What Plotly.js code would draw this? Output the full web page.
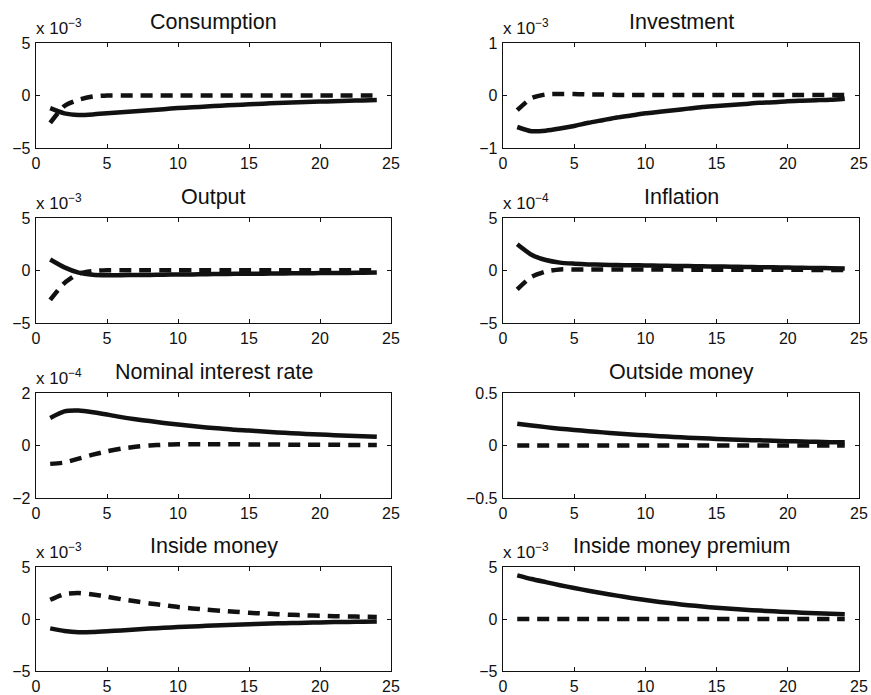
<!DOCTYPE html>
<html>
<head>
<meta charset="utf-8">
<script src="https://cdn.plot.ly/plotly-3.0.1.min.js"></script>
<style>html,body{margin:0;padding:0;background:#fff;}#chart{width:871px;height:695px;}</style>
</head>
<body>
<div id="chart"></div>
<script>
// Horizon (quarters)
const periods = [1,2,3,4,5,6,7,8,9,10,11,12,13,14,15,16,17,18,19,20,21,22,23,24];

// Panel titles, scale exponents and y-ranges
const titles = ["Consumption","Investment","Output","Inflation","Nominal interest rate","Outside money","Inside money","Inside money premium"];
const exponents = [-3,-3,-3,-4,-4,null,-3,-3];
const yLimits = [5,1,5,5,2,0.5,5,5];
const xTicks = [0,5,10,15,20,25];

// Values (in units of 10^exponent), solid = first scenario, dashed = second scenario
const consumptionSolid  = [-1.2,-1.7,-1.85,-1.8,-1.7,-1.6,-1.5,-1.4,-1.3,-1.2,-1.12,-1.05,-0.97,-0.9,-0.84,-0.78,-0.72,-0.67,-0.62,-0.58,-0.54,-0.5,-0.47,-0.44];
const consumptionDashed = [-2.6,-1.0,-0.4,-0.1,0,0,0,0,0,0,0,0,0,0,0,0,0,0,0,0,0,0,0,0];
const investmentSolid   = [-0.6,-0.68,-0.67,-0.63,-0.58,-0.52,-0.47,-0.42,-0.38,-0.34,-0.31,-0.28,-0.25,-0.22,-0.2,-0.18,-0.16,-0.14,-0.13,-0.11,-0.1,-0.09,-0.08,-0.06];
const investmentDashed  = [-0.28,-0.05,0.02,0.03,0.03,0.02,0.02,0.01,0.01,0.01,0.01,0.01,0.01,0.01,0.01,0.01,0.01,0.01,0.01,0.01,0.01,0.01,0.01,0.01];
const outputSolid       = [1.05,0.3,-0.2,-0.4,-0.45,-0.45,-0.43,-0.42,-0.4,-0.38,-0.37,-0.35,-0.34,-0.32,-0.31,-0.3,-0.28,-0.27,-0.26,-0.25,-0.24,-0.23,-0.22,-0.2];
const outputDashed      = [-2.8,-1.2,-0.3,-0.05,0.02,0.03,0.03,0.03,0.03,0.03,0.03,0.03,0.03,0.03,0.02,0.02,0.02,0.02,0.02,0.02,0.02,0.02,0.02,0.02];
const inflationSolid    = [2.5,1.5,1.0,0.75,0.65,0.58,0.55,0.52,0.5,0.48,0.46,0.44,0.42,0.4,0.38,0.36,0.34,0.32,0.3,0.28,0.26,0.24,0.22,0.2];
const inflationDashed   = [-1.8,-0.6,-0.1,0.1,0.1,0.1,0.1,0.1,0.1,0.09,0.09,0.09,0.08,0.08,0.08,0.07,0.07,0.07,0.06,0.06,0.06,0.05,0.05,0.05];
const interestSolid     = [1.05,1.3,1.33,1.27,1.18,1.08,1.0,0.93,0.86,0.8,0.74,0.69,0.65,0.6,0.57,0.53,0.5,0.47,0.44,0.42,0.39,0.37,0.35,0.33];
const interestDashed    = [-0.7,-0.65,-0.5,-0.35,-0.22,-0.12,-0.05,0,0.03,0.05,0.05,0.05,0.05,0.05,0.04,0.04,0.04,0.03,0.03,0.03,0.03,0.02,0.02,0.02];
const outsideSolid      = [0.207,0.19,0.175,0.16,0.148,0.136,0.125,0.115,0.105,0.097,0.089,0.082,0.075,0.069,0.063,0.058,0.053,0.049,0.045,0.041,0.038,0.035,0.032,0.03];
const outsideDashed     = [0,0,0,0,0,0,0,0,0,0,0,0,0,0,0,0,0,0,0,0,0,0,0,0];
const insideSolid       = [-0.9,-1.15,-1.27,-1.25,-1.18,-1.1,-1.0,-0.92,-0.85,-0.78,-0.72,-0.66,-0.6,-0.55,-0.5,-0.46,-0.42,-0.39,-0.36,-0.33,-0.3,-0.28,-0.26,-0.24];
const insideDashed      = [1.85,2.4,2.5,2.35,2.15,1.9,1.7,1.5,1.33,1.15,1.02,0.9,0.8,0.7,0.6,0.53,0.46,0.4,0.35,0.31,0.27,0.24,0.22,0.2];
const premiumSolid      = [4.2,3.85,3.55,3.25,2.98,2.72,2.48,2.25,2.02,1.82,1.64,1.48,1.33,1.2,1.08,0.98,0.89,0.81,0.74,0.67,0.61,0.56,0.5,0.45];
const premiumDashed     = [0,0,0,0,0,0,0,0,0,0,0,0,0,0,0,0,0,0,0,0,0,0,0,0];

const solidSeries  = [consumptionSolid, investmentSolid, outputSolid, inflationSolid, interestSolid, outsideSolid, insideSolid, premiumSolid];
const dashedSeries = [consumptionDashed, investmentDashed, outputDashed, inflationDashed, interestDashed, outsideDashed, insideDashed, premiumDashed];

const W = 871, H = 695;
const colPx = [[36,391],[503,859]];
const rowPx = [[43,148],[218,323],[393,498],[567,671]];
const font = "Liberation Sans, Arial, Helvetica, sans-serif";

const data = [];
const layout = {
  width: W, height: H,
  margin: {l:0,r:0,t:0,b:0},
  paper_bgcolor: "#fff", plot_bgcolor: "#fff",
  showlegend: false,
  font: {family: font, color: "#111", size: 16},
  annotations: []
};

function fmt(v){
  const s = String(Math.abs(v));
  return v < 0 ? "\u2212" + s : s;
}

for (let i = 0; i < 8; i++) {
  const r = Math.floor(i/2), c = i % 2;
  const n = i + 1;
  const xa = n === 1 ? "x" : "x" + n;
  const ya = n === 1 ? "y" : "y" + n;
  const xd = [colPx[c][0]/W, colPx[c][1]/W];
  const yd = [1 - rowPx[r][1]/H, 1 - rowPx[r][0]/H];
  const lim = yLimits[i];

  data.push({x: periods, y: dashedSeries[i], xaxis: xa, yaxis: ya, mode: "lines",
             line: {color: "#111", width: 4.5, dash: "12px,8px", shape: "spline", smoothing: 0.6}, hoverinfo: "skip"});
  data.push({x: periods, y: solidSeries[i], xaxis: xa, yaxis: ya, mode: "lines",
             line: {color: "#111", width: 4.5, shape: "spline", smoothing: 0.6}, hoverinfo: "skip"});

  const xkey = n === 1 ? "xaxis" : "xaxis" + n;
  const ykey = n === 1 ? "yaxis" : "yaxis" + n;
  layout[xkey] = {
    domain: xd, anchor: ya, range: [0,25], tickvals: xTicks, ticktext: xTicks.map(String),
    showgrid: false, zeroline: false, showline: true, mirror: "ticks", linecolor: "#111", linewidth: 1.3,
    ticks: "inside", ticklen: 4, tickcolor: "#111", tickwidth: 1, ticklabelstandoff: 0,
    tickfont: {family: font, size: 16, color: "#111"}, fixedrange: true
  };
  const yt = [-lim, 0, lim];
  layout[ykey] = {
    domain: yd, anchor: xa, range: [-lim, lim], tickvals: yt, ticktext: yt.map(fmt),
    showgrid: false, zeroline: false, showline: true, mirror: "ticks", linecolor: "#111", linewidth: 1.3,
    ticks: "inside", ticklen: 4, tickcolor: "#111", tickwidth: 1, ticklabelstandoff: 1,
    tickfont: {family: font, size: 16, color: "#111"}, fixedrange: true
  };

  layout.annotations.push({
    xref: "paper", yref: "paper", x: (xd[0]+xd[1])/2, y: yd[1], xanchor: "center", yanchor: "bottom",
    yshift: 7, text: titles[i], showarrow: false, font: {family: font, size: 21.5, color: "#111"}
  });
  if (exponents[i] !== null) {
    layout.annotations.push({
      xref: "paper", yref: "paper", x: xd[0], y: yd[1], xanchor: "left", yanchor: "bottom",
      yshift: 3, xshift: -2, text: "x 10<sup>\u2212" + Math.abs(exponents[i]) + "</sup>", showarrow: false,
      font: {family: font, size: 17, color: "#111"}
    });
  }
}

Plotly.newPlot("chart", data, layout, {displayModeBar: false, staticPlot: true});
</script>
</body>
</html>
